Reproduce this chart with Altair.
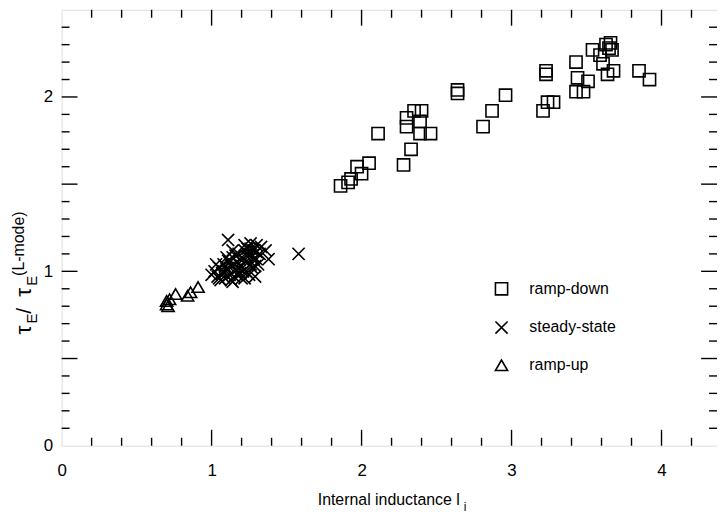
import altair as alt
import pandas as pd

# ---- data ----
rampdown_x = [1.86, 1.91, 1.93, 1.97, 2.00, 2.05, 2.11, 2.28, 2.33, 2.30, 2.30, 2.35, 2.40, 2.39,
              2.39, 2.46, 2.64, 2.64, 2.81, 2.87, 2.96, 3.21, 3.24, 3.28, 3.23, 3.23, 3.43, 3.44,
              3.51, 3.48, 3.43, 3.54, 3.59, 3.61, 3.64, 3.63, 3.66, 3.67, 3.68, 3.65, 3.85, 3.92]
rampdown_y = [1.49, 1.51, 1.53, 1.60, 1.56, 1.62, 1.79, 1.61, 1.70, 1.88, 1.83, 1.92, 1.92, 1.86,
              1.79, 1.79, 2.04, 2.02, 1.83, 1.92, 2.01, 1.92, 1.97, 1.97, 2.13, 2.15, 2.20, 2.11,
              2.09, 2.03, 2.03, 2.27, 2.24, 2.19, 2.13, 2.30, 2.31, 2.27, 2.15, 2.28, 2.15, 2.10]

steady_x = [1.00, 1.02, 1.04, 1.05, 1.07, 1.08, 1.09, 1.10, 1.11, 1.12, 1.13, 1.14, 1.15, 1.16,
            1.17, 1.18, 1.19, 1.20, 1.21, 1.22, 1.23, 1.24, 1.25, 1.26, 1.27, 1.28, 1.29, 1.30,
            1.31, 1.33, 1.11, 1.36, 1.38, 1.58, 1.06, 1.14, 1.22,
            1.03, 1.05, 1.08, 1.10, 1.12, 1.13, 1.15, 1.16, 1.18, 1.19, 1.20, 1.21, 1.23, 1.24,
            1.25, 1.26, 1.27, 1.28, 1.29, 1.30, 1.32, 1.17, 1.09, 1.14, 1.22, 1.26, 1.30]
steady_y = [0.98, 1.00, 0.97, 1.02, 0.99, 1.04, 0.96, 1.01, 1.06, 0.98, 1.03, 1.08, 0.97, 1.01,
            1.05, 1.10, 0.99, 1.03, 1.07, 1.12, 1.00, 1.05, 1.09, 1.13, 1.02, 1.07, 0.97, 1.11,
            1.04, 1.14, 1.18, 1.12, 1.07, 1.10, 0.95, 0.94, 0.96,
            1.04, 0.96, 1.00, 1.08, 1.05, 0.95, 1.04, 1.09, 1.02, 1.07, 0.96, 1.00, 1.09, 1.13,
            0.98, 1.04, 1.09, 1.12, 1.03, 1.07, 1.10, 0.98, 1.03, 1.12, 1.15, 1.16, 1.15]

rampup_x = [0.70, 0.70, 0.72, 0.76, 0.84, 0.86, 0.91, 0.71]
rampup_y = [0.81, 0.83, 0.84, 0.87, 0.86, 0.88, 0.91, 0.80]

categories = ["ramp-down", "steady-state", "ramp-up"]

x_major = [1, 2, 3, 4]
x_minor = [0.2, 0.4, 0.6, 0.8, 1.2, 1.4, 1.6, 1.8, 2.2, 2.4, 2.6, 2.8, 3.2, 3.4, 3.6, 3.8, 4.2]
y_major = [0.5, 1.0, 1.5, 2.0]
y_minor = [0.1, 0.2, 0.3, 0.4, 0.6, 0.7, 0.8, 0.9, 1.1, 1.2, 1.3, 1.4, 1.6, 1.7, 1.8, 1.9,
           2.1, 2.2, 2.3, 2.4]
x_labels = [0, 1, 2, 3, 4]
y_labels = [0, 1, 2]

df = pd.DataFrame({
    "x": rampdown_x + steady_x + rampup_x,
    "y": rampdown_y + steady_y + rampup_y,
    "type": ["ramp-down"] * len(rampdown_x) + ["steady-state"] * len(steady_x)
            + ["ramp-up"] * len(rampup_x),
})

W, H = 660, 439
FONT = "Liberation Sans"
MAJ, MIN = 16, 8

xs = alt.Scale(domain=[0, 4.37], nice=False, zero=False)
ys = alt.Scale(domain=[0, 2.5], nice=False, zero=False)
xaxis = alt.Axis(values=x_labels, ticks=False, domain=False, grid=False, title=None,
                 labelFontSize=17, labelPadding=17, labelFont=FONT, labelColor="black",
                 labelFlush=False, format="d")
yaxis = alt.Axis(values=y_labels, ticks=False, domain=False, grid=False, title=None,
                 labelFontSize=17, labelPadding=9, labelFont=FONT, labelColor="black",
                 labelFlush=False, format="d")

xpath = "M-1,-1L1,1M-1,1L1,-1"

points = alt.Chart(df).mark_point(filled=False, strokeWidth=1.6, opacity=1).encode(
    x=alt.X("x:Q", scale=xs, axis=xaxis),
    y=alt.Y("y:Q", scale=ys, axis=yaxis),
    shape=alt.Shape("type:N", sort=categories,
                    scale=alt.Scale(domain=categories, range=["square", xpath, "triangle-up"]),
                    legend=alt.Legend(orient="none", legendX=435, legendY=273, title=None,
                                      labelFontSize=16, labelFont=FONT, labelColor="black",
                                      symbolSize=150, symbolStrokeWidth=1.6,
                                      symbolStrokeColor="black", symbolFillColor="transparent",
                                      rowPadding=19, labelOffset=20)),
    color=alt.value("black"),
    size=alt.value(150),
)


def xticks(vals, L):
    d = pd.DataFrame({"x": vals})
    base = alt.Chart(d).mark_rule(color="black", strokeWidth=1.4)
    bot = base.encode(x=alt.X("x:Q", scale=xs, axis=xaxis), y=alt.value(H), y2=alt.value(H - L))
    top = base.encode(x=alt.X("x:Q", scale=xs, axis=xaxis), y=alt.value(0), y2=alt.value(L))
    return [bot, top]


def yticks(vals, L):
    d = pd.DataFrame({"y": vals})
    base = alt.Chart(d).mark_rule(color="black", strokeWidth=1.4)
    left = base.encode(y=alt.Y("y:Q", scale=ys, axis=yaxis), x=alt.value(0), x2=alt.value(L))
    right = base.encode(y=alt.Y("y:Q", scale=ys, axis=yaxis), x=alt.value(W), x2=alt.value(W - L))
    return [left, right]


one = pd.DataFrame({"k": [0]})


def txt(s, x, y, size, align="left", angle=0, baseline="alphabetic"):
    return alt.Chart(one).mark_text(text=s, font=FONT, fontSize=size, color="black",
                                    align=align, baseline=baseline, angle=angle).encode(
        x=alt.value(x), y=alt.value(y))


# y-axis title, rotated, built from pieces (bottom to top)
yt = [
    txt("τ", -31, 327, 23, angle=270),
    txt("E", -25, 316, 15, angle=270),
    txt(" / ", -31, 306, 21, angle=270),
    txt("τ", -31, 289, 23, angle=270),
    txt("E", -25, 278, 15, angle=270),
    txt("(L-mode)", -38, 268, 16, angle=270),
]
# x-axis title
xt = [
    txt("Internal inductance l", 401, 499, 16, align="right"),
    txt("i", 405, 505, 12, align="left"),
]

layers = xticks(x_minor, MIN) + xticks(x_major, MAJ) + yticks(y_minor, MIN) + yticks(y_major, MAJ)
layers = layers + [points] + yt + xt

chart = alt.layer(*layers).properties(
    width=W, height=H,
    autosize=alt.AutoSizeParams(type="none"),
    padding={"left": 54, "top": 0, "right": 0, "bottom": 68},
).configure_view(stroke="black", strokeWidth=1.5).configure(background="white")

chart.save("out.html", embed_options={"renderer": "svg", "actions": False})
